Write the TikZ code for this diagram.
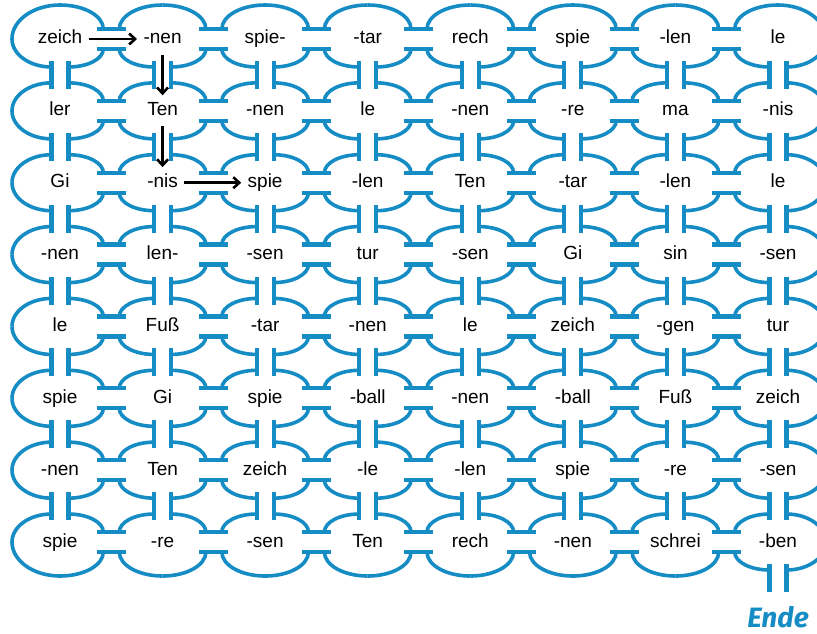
\documentclass[tikz,border=0pt]{standalone}
\usepackage{fontspec}
\setmainfont{Liberation Sans}
\newfontfamily\endefont{Fira Sans}
\usepackage{tikz}
\usetikzlibrary{arrows.meta}
\definecolor{mazeblue}{RGB}{22,140,196}

\begin{document}
\begin{tikzpicture}[x=102.57pt, y=71.86pt, >={Straight Barb[length=6pt, width=11pt]},
    wall/.style={mazeblue, line width=3.6pt},
    door/.style={mazeblue, line width=4.2pt},
    syl/.style={font=\fontsize{19}{21}\selectfont, text height=14pt, text depth=4pt},
    trail/.style={->, line width=2.6pt, shorten <=3pt, shorten >=3pt}]
    \useasboundingbox (-60pt, 39pt) rectangle (757pt, -595pt);
    \clip (-60pt, 39pt) rectangle (757pt, -595pt);
    % rooms: four quarter arcs each, bigger ones on the outer rim
    \foreach \r in {0,...,7} {
      \foreach \c in {0,...,7} {
        \foreach \sx/\sy in {1/1, -1/1, -1/-1, 1/-1} {
          \pgfmathsetmacro\hb{((\sx==1) && (\c==7)) || ((\sx==-1) && (\c==0))}
          \pgfmathsetmacro\vb{((\sy==1) && (\r==0)) || ((\sy==-1) && (\r==7) && (\c<7))}
          \pgfmathsetmacro\hx{\hb ? 48 : 43.3}
          \pgfmathsetmacro\hy{\hb ? 0 : 10}
          \pgfmathsetmacro\vx{\vb ? 0 : 8.5}
          \pgfmathsetmacro\vy{\vb ? 34 : 28}
          \pgfmathsetmacro\X{\c*102.57 + \sx*\hx}
          \pgfmathsetmacro\Y{-\r*71.86 + \sy*\hy}
          \pgfmathsetmacro\rx{\hx - \vx}
          \pgfmathsetmacro\ry{\vy - \hy}
          \pgfmathsetmacro\sa{\sx==1 ? 0 : 180}
          \pgfmathsetmacro\ea{\sx==1 ? \sy*90 : 180 - \sy*90}
          \draw[wall] (\X pt, \Y pt) arc[start angle=\sa, end angle=\ea, x radius=\rx pt, y radius=\ry pt];
        }
      }
    }
    % doors side by side
    \foreach \r in {0,...,7} {
      \foreach \c in {0,...,6} {
        \draw[door] (\c+0.5, -\r) ++(-14.5pt, 10pt) -- ++(29pt, 0pt);
        \draw[door] (\c+0.5, -\r) ++(-14.5pt, -10pt) -- ++(29pt, 0pt);
      }
    }
    % doors one above the other
    \foreach \r in {0,...,6} {
      \foreach \c in {0,...,7} {
        \draw[door] (\c, -\r-0.5) ++(-8.5pt, 14pt) -- ++(0pt, -28pt);
        \draw[door] (\c, -\r-0.5) ++(8.5pt, 14pt) -- ++(0pt, -28pt);
      }
    }
    \draw[door] (7, -7.5) ++(-8.5pt, 14pt) -- ++(0pt, -28pt);
    \draw[door] (7, -7.5) ++(8.5pt, 14pt) -- ++(0pt, -28pt);

    \node[syl] (a1) at (0, 0) {zeich};
    \node[syl] (a2) at (1, 0) {-nen};
    \node[syl] (a3) at (2, 0) {spie-};
    \node[syl] (a4) at (3, 0) {-tar};
    \node[syl] (a5) at (4, 0) {rech};
    \node[syl] (a6) at (5, 0) {spie};
    \node[syl] (a7) at (6, 0) {-len};
    \node[syl] (a8) at (7, 0) {le};

    \node[syl] (b1) at (0, -1) {ler};
    \node[syl] (b2) at (1, -1) {Ten};
    \node[syl] (b3) at (2, -1) {-nen};
    \node[syl] (b4) at (3, -1) {le};
    \node[syl] (b5) at (4, -1) {-nen};
    \node[syl] (b6) at (5, -1) {-re};
    \node[syl] (b7) at (6, -1) {ma};
    \node[syl] (b8) at (7, -1) {-nis};

    \node[syl] (c1) at (0, -2) {Gi};
    \node[syl] (c2) at (1, -2) {-nis};
    \node[syl] (c3) at (2, -2) {spie};
    \node[syl] (c4) at (3, -2) {-len};
    \node[syl] (c5) at (4, -2) {Ten};
    \node[syl] (c6) at (5, -2) {-tar};
    \node[syl] (c7) at (6, -2) {-len};
    \node[syl] (c8) at (7, -2) {le};

    \node[syl] (d1) at (0, -3) {-nen};
    \node[syl] (d2) at (1, -3) {len-};
    \node[syl] (d3) at (2, -3) {-sen};
    \node[syl] (d4) at (3, -3) {tur};
    \node[syl] (d5) at (4, -3) {-sen};
    \node[syl] (d6) at (5, -3) {Gi};
    \node[syl] (d7) at (6, -3) {sin};
    \node[syl] (d8) at (7, -3) {-sen};

    \node[syl] (e1) at (0, -4) {le};
    \node[syl] (e2) at (1, -4) {Fuß};
    \node[syl] (e3) at (2, -4) {-tar};
    \node[syl] (e4) at (3, -4) {-nen};
    \node[syl] (e5) at (4, -4) {le};
    \node[syl] (e6) at (5, -4) {zeich};
    \node[syl] (e7) at (6, -4) {-gen};
    \node[syl] (e8) at (7, -4) {tur};

    \node[syl] (f1) at (0, -5) {spie};
    \node[syl] (f2) at (1, -5) {Gi};
    \node[syl] (f3) at (2, -5) {spie};
    \node[syl] (f4) at (3, -5) {-ball};
    \node[syl] (f5) at (4, -5) {-nen};
    \node[syl] (f6) at (5, -5) {-ball};
    \node[syl] (f7) at (6, -5) {Fuß};
    \node[syl] (f8) at (7, -5) {zeich};

    \node[syl] (g1) at (0, -6) {-nen};
    \node[syl] (g2) at (1, -6) {Ten};
    \node[syl] (g3) at (2, -6) {zeich};
    \node[syl] (g4) at (3, -6) {-le};
    \node[syl] (g5) at (4, -6) {-len};
    \node[syl] (g6) at (5, -6) {spie};
    \node[syl] (g7) at (6, -6) {-re};
    \node[syl] (g8) at (7, -6) {-sen};

    \node[syl] (h1) at (0, -7) {spie};
    \node[syl] (h2) at (1, -7) {-re};
    \node[syl] (h3) at (2, -7) {-sen};
    \node[syl] (h4) at (3, -7) {Ten};
    \node[syl] (h5) at (4, -7) {rech};
    \node[syl] (h6) at (5, -7) {-nen};
    \node[syl] (h7) at (6, -7) {schrei};
    \node[syl] (h8) at (7, -7) {-ben};

    \node[text=mazeblue, font=\endefont\bfseries\itshape\fontsize{28}{30}\selectfont] (ende) at (7, -8.05) {Ende};

    \draw[trail] (a1) -- (a2);
    \draw[trail] (a2) -- (b2);
    \draw[trail] (b2) -- (c2);
    \draw[trail] (c2) -- (c3);
\end{tikzpicture}
\end{document}
